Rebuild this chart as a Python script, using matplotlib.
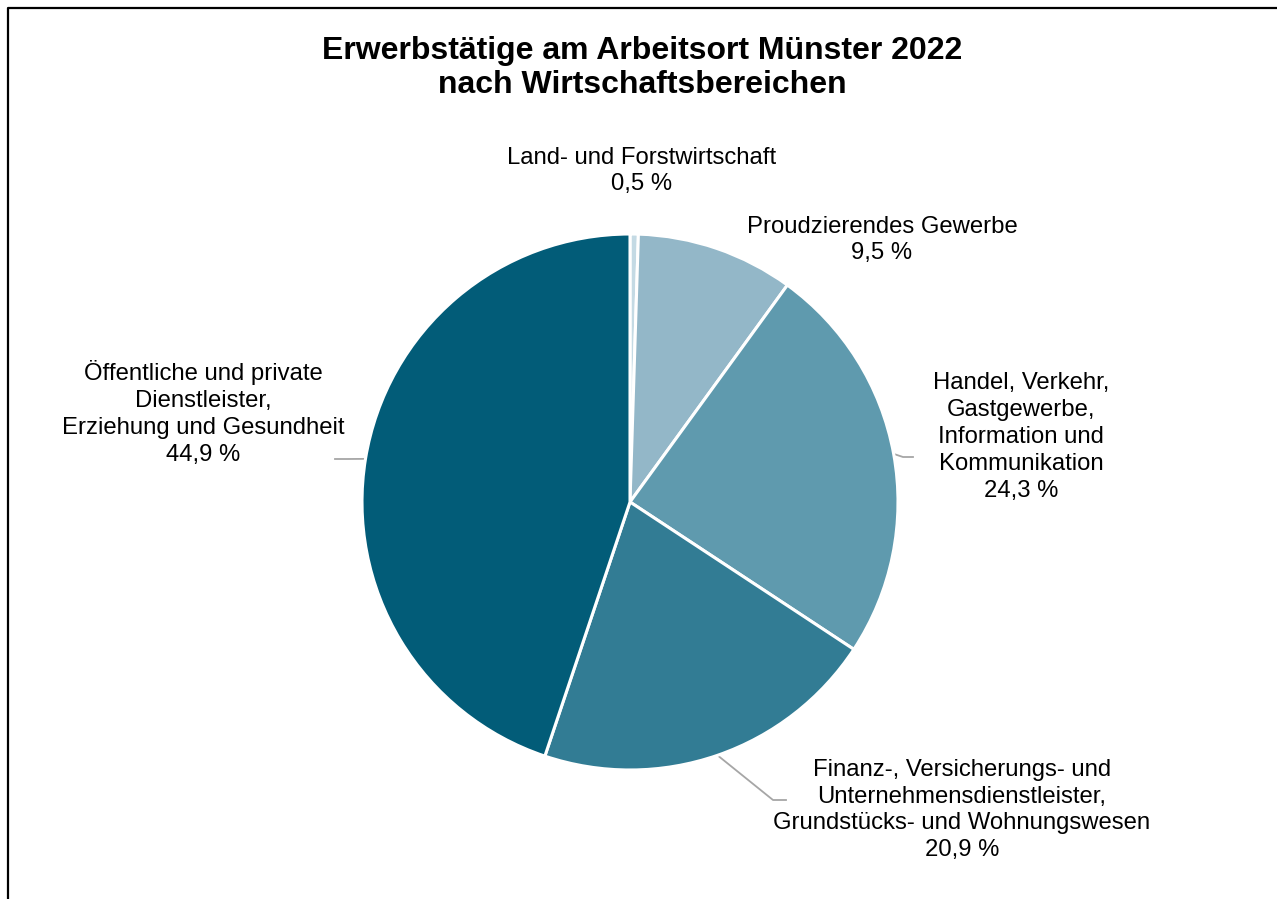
import numpy as np
import matplotlib.pyplot as plt

# data
categories = [
    "Land- und Forstwirtschaft",
    "Proudzierendes Gewerbe",
    "Handel, Verkehr,\nGastgewerbe,\nInformation und\nKommunikation",
    "Finanz-, Versicherungs- und\nUnternehmensdienstleister,\nGrundstücks- und Wohnungswesen",
    "Öffentliche und private\nDienstleister,\nErziehung und Gesundheit",
]
shares = [0.5, 9.5, 24.3, 20.9, 44.9]
colors = ["#c4dae4", "#93b7c8", "#5f9aae", "#327c94", "#025c78"]

title = "Erwerbstätige am Arbeitsort Münster 2022\nnach Wirtschaftsbereichen"

# layout in pixels (y measured from top)
W, H = 1277, 899
cx, cy, r = 630, 502, 268
label_pos = [(642, 171), (882, 240), (1021, 437), (962, 810), (203, 413)]
# leader lines: None or (elbow, end) in pixels
leaders = [None, None, ((903, 457), (913, 457)), ((773, 800), (786, 800)),
           ((348, 459), (335, 459))]

plt.rcParams['font.family'] = ['Liberation Sans', 'DejaVu Sans']

fig = plt.figure(figsize=(W / 100, H / 100), dpi=100)
ax = fig.add_axes([0, 0, 1, 1])


def py(y):
    return H - y


wedges, _ = ax.pie(shares, colors=colors, startangle=90, counterclock=False,
                   center=(cx, py(cy)), radius=r, frame=True,
                   wedgeprops=dict(edgecolor='white', linewidth=2.2))
ax.set_xlim(0, W)
ax.set_ylim(0, H)
ax.axis('off')
ax.set_aspect('equal')

for w, cat, v, pos, ld in zip(wedges, categories, shares, label_pos, leaders):
    txt = cat + "\n" + f"{v:.1f}".replace('.', ',') + " %"
    ax.text(pos[0], py(pos[1]), txt, ha='center', va='center',
            fontsize=17.2, linespacing=1.29, color='black')
    if ld is not None:
        ang = np.deg2rad((w.theta1 + w.theta2) / 2)
        x0 = cx + r * np.cos(ang)
        y0 = py(cy) + r * np.sin(ang)
        xs = [x0, ld[0][0], ld[1][0]]
        ys = [y0, py(ld[0][1]), py(ld[1][1])]
        ax.plot(xs, ys, color='#a6a6a6', lw=1.3, zorder=0)

ax.text(642, py(68), title, ha='center', va='center', fontsize=23,
        fontweight='bold', linespacing=1.19)

# frame around the chart (cut at right and bottom)
ax.plot([7.5, 7.5, W + 5], [-5, py(7.5), py(7.5)], color='black', lw=1.6,
        clip_on=False)

fig.savefig('out.png', dpi=100)
